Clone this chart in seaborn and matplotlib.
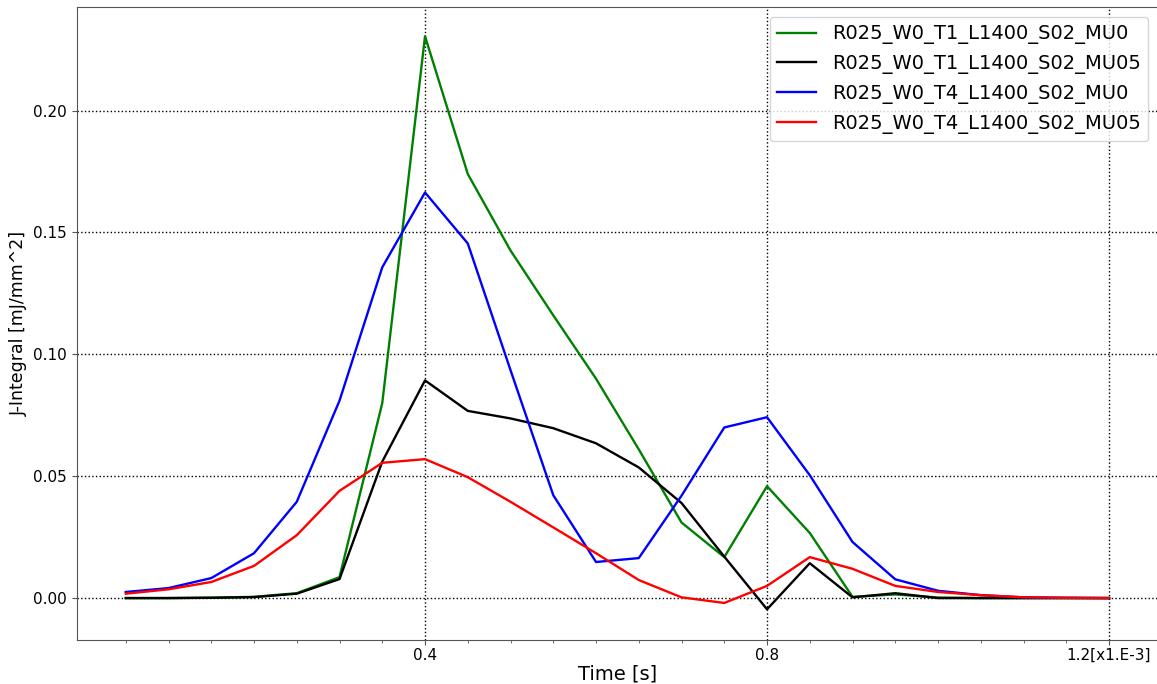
import matplotlib
matplotlib.use("Agg")
import matplotlib.pyplot as plt
import seaborn as sns
import pandas as pd
from matplotlib.ticker import FixedLocator

time = [0.05, 0.10, 0.15, 0.20, 0.25, 0.30, 0.35, 0.40, 0.45, 0.50, 0.55, 0.60,
        0.65, 0.70, 0.75, 0.80, 0.85, 0.90, 0.95, 1.00, 1.05, 1.10, 1.15, 1.20]

t1_mu0 = [0.0, 0.0, 0.0002, 0.0005, 0.002, 0.0086, 0.080, 0.2305, 0.174, 0.1426, 0.116, 0.090,
          0.061, 0.031, 0.0168, 0.0459, 0.0267, 0.0005, 0.0015, 0.0002, 0.0, 0.0, 0.0, 0.0]
t1_mu05 = [0.0, 0.0, 0.0001, 0.0004, 0.0018, 0.0078, 0.056, 0.0893, 0.0768, 0.0737, 0.0697, 0.0635,
           0.0536, 0.039, 0.017, -0.0046, 0.0143, 0.0003, 0.002, 0.0, 0.0, 0.0, 0.0, 0.0]
t4_mu0 = [0.0025, 0.0041, 0.0082, 0.0184, 0.0395, 0.081, 0.1357, 0.1664, 0.1455, 0.0935, 0.0422, 0.0148,
          0.0164, 0.042, 0.070, 0.0742, 0.0504, 0.023, 0.0077, 0.003, 0.0012, 0.0003, 0.0001, 0.0]
t4_mu05 = [0.0018, 0.0036, 0.0066, 0.0132, 0.0258, 0.044, 0.0555, 0.057, 0.0496, 0.0395, 0.029, 0.0184,
           0.0074, 0.0003, -0.002, 0.005, 0.0168, 0.012, 0.005, 0.0025, 0.0012, 0.0003, 0.0001, 0.0]

series_names = ["R025_W0_T1_L1400_S02_MU0", "R025_W0_T1_L1400_S02_MU05",
                "R025_W0_T4_L1400_S02_MU0", "R025_W0_T4_L1400_S02_MU05"]
series_colors = ["green", "black", "blue", "red"]
x_ticks = [0.4, 0.8, 1.2]
x_tick_labels = ["0.4", "0.8", "1.2[x1.E-3]"]

frames = []
for name, vals in zip(series_names, [t1_mu0, t1_mu05, t4_mu0, t4_mu05]):
    frames.append(pd.DataFrame({"time": time, "J": vals, "series": name}))
df = pd.concat(frames, ignore_index=True)

plt.rcParams["font.family"] = ["DejaVu Sans"]

fig = plt.figure(figsize=(11.57, 6.84), dpi=100)
ax = fig.add_axes([76.6 / 1157, 1 - 640 / 684, (1158.2 - 76.6) / 1157, 633 / 684])

sns.lineplot(data=df, x="time", y="J", hue="series", hue_order=series_names,
             palette=dict(zip(series_names, series_colors)), linewidth=1.7, ax=ax,
             sort=False, estimator=None)

ax.set_xlim(-0.0075, 1.2575)
ax.set_ylim(-0.0172, 0.2425)
ax.set_xticks(x_ticks)
ax.set_xticklabels(x_tick_labels)
ax.xaxis.set_minor_locator(FixedLocator(time))
ax.set_yticks([0.0, 0.05, 0.10, 0.15, 0.20])
ax.set_yticklabels(["0.00", "0.05", "0.10", "0.15", "0.20"])
ax.tick_params(axis="both", which="major", labelsize=11, color="#555555")
ax.tick_params(axis="x", which="major", pad=2)
ax.tick_params(axis="both", which="minor", color="#555555")
ax.grid(True, which="major", linestyle=":", color="black", linewidth=1.0)
ax.set_axisbelow(True)

for s in ax.spines.values():
    s.set_color("#555555")
ax.spines["right"].set_visible(False)

ax.set_xlabel("Time [s]", fontsize=14, labelpad=1)
ax.set_ylabel("J-Integral [mJ/mm^2]", fontsize=12.5)

sns.move_legend(ax, "upper right", title=None, fontsize=14, frameon=True)
leg = ax.get_legend()
for line in leg.get_lines():
    line.set_linewidth(1.7)

fig.savefig("out.png", dpi=100)
